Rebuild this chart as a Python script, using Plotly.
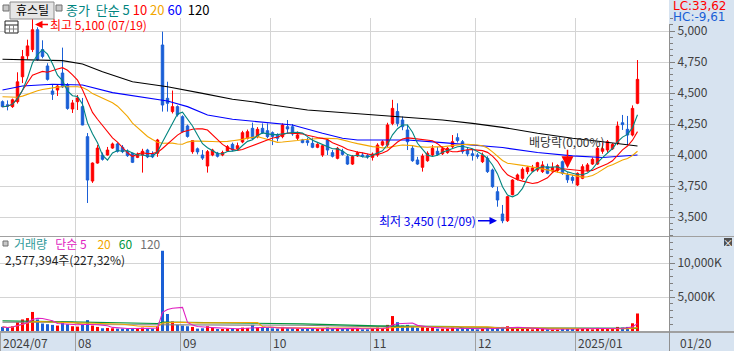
import plotly.graph_objects as go
import pandas as pd

W, H = 734, 351

# ---------------- data ----------------
month_labels = ["2024/07", "08", "09", "10", "11", "12", "2025/01"]
month_start_idx = [0, 15, 36, 54, 74, 95, 115]
last_date_label = "01/20"
high_date_label = "07/19"
low_date_label = "12/09"
exdiv_idx = 113

opens = [4430, 4405, 4390, 4430, 4631, 4800, 4850, 5010, 4850, 4718,
         4516, 4524, 4661, 4565, 4371, 4430, 4390, 4148, 3790, 3935,
         4000, 4000, 4056, 4089, 4062, 4027, 4014, 3981, 4000, 4040,
         4010, 4014, 4887, 4457, 4350, 4390, 4309, 4234, 4027, 4050,
         4000, 3911, 4000, 4015, 4000, 4032, 4086, 4050, 4105, 4135,
         4215, 4148, 4215, 4196, 4180, 4160, 4148, 4228, 4228, 4135,
         4121, 4115, 4094, 4062, 4000, 4121, 4019, 3973, 4030, 3987,
         3927, 3992, 4000, 3995, 3981, 4000, 4080, 4080, 4255, 4350,
         4282, 4202, 4054, 3960, 3901, 3954, 4000, 4030, 4010, 4019,
         4067, 4140, 4107, 4040, 4010, 4000, 3946, 3973, 3879, 3704,
         3524, 3470, 3680, 3804, 3812, 3866, 3870, 3879, 3866, 3906,
         3870, 3875, 3946, 3839, 3820, 3758, 3812, 3874, 3927, 3927,
         4030, 4040, 4050, 4094, 4260, 4207, 4161, 4417]
highs = [4440, 4440, 4455, 4667, 4847, 4930, 5100, 5030, 4925, 4740,
         4565, 4565, 4866, 4580, 4444, 4484, 4460, 4177, 3940, 4080,
         4020, 4065, 4100, 4100, 4080, 4045, 4020, 4020, 4050, 4050,
         4030, 4130, 4995, 4591, 4520, 4400, 4320, 4245, 4120, 4060,
         4040, 4040, 4050, 4025, 4035, 4080, 4100, 4100, 4195, 4205,
         4261, 4225, 4255, 4255, 4190, 4175, 4255, 4282, 4250, 4190,
         4130, 4140, 4140, 4095, 4085, 4135, 4040, 4065, 4050, 4000,
         4000, 4030, 4020, 4010, 4020, 4095, 4120, 4260, 4445, 4417,
         4310, 4245, 4080, 3985, 4010, 4030, 4080, 4065, 4070, 4065,
         4161, 4175, 4121, 4060, 4040, 4015, 4020, 3990, 3890, 3744,
         3597, 3670, 3805, 3850, 3900, 3910, 3920, 3945, 3950, 3930,
         3940, 3925, 3955, 3860, 3840, 3860, 3925, 3935, 3980, 4070,
         4100, 4121, 4095, 4270, 4323, 4315, 4400, 4766]
lows = [4385, 4360, 4380, 4415, 4580, 4770, 4830, 4760, 4780, 4600,
        4444, 4476, 4540, 4365, 4339, 4363, 4240, 3613, 3775, 3930,
        3955, 3995, 4050, 4020, 4015, 3985, 3935, 3975, 3858, 3975,
        3975, 3985, 4350, 4350, 4335, 4310, 4180, 4140, 4010, 4005,
        3960, 3858, 3990, 3980, 3990, 4025, 4030, 4040, 4095, 4125,
        4121, 4135, 4170, 4135, 4080, 4110, 4135, 4175, 4155, 4120,
        4095, 4075, 4055, 4055, 3985, 4000, 3980, 3965, 3995, 3920,
        3920, 3985, 3980, 3970, 3955, 3985, 4070, 4065, 4240, 4230,
        4200, 4040, 3945, 3920, 3866, 3945, 3990, 3995, 4000, 4010,
        4055, 4100, 4010, 3990, 3955, 3970, 3935, 3855, 3735, 3583,
        3450, 3460, 3675, 3795, 3800, 3845, 3865, 3865, 3855, 3845,
        3860, 3860, 3840, 3775, 3770, 3750, 3805, 3865, 3920, 3920,
        4010, 4020, 4040, 4080, 4202, 4080, 4150, 4410]
closes = [4390, 4395, 4445, 4590, 4793, 4880, 5010, 4770, 4795, 4610,
          4490, 4556, 4550, 4376, 4420, 4460, 4242, 3798, 3935, 4056,
          3965, 4040, 4089, 4030, 4027, 3995, 3941, 4008, 4030, 3985,
          3985, 4121, 4403, 4417, 4390, 4325, 4188, 4150, 4116, 4025,
          3975, 4027, 4040, 3990, 4020, 4067, 4040, 4075, 4180, 4188,
          4135, 4207, 4180, 4148, 4150, 4135, 4242, 4210, 4170, 4161,
          4100, 4100, 4062, 4086, 4075, 4040, 3990, 4054, 4005, 3927,
          3987, 4019, 3990, 3985, 4008, 4080, 4107, 4242, 4376, 4255,
          4228, 4107, 3954, 3927, 3992, 4014, 4054, 4005, 4050, 4054,
          4107, 4116, 4027, 4008, 3995, 3990, 4000, 3866, 3745, 3637,
          3470, 3664, 3798, 3839, 3885, 3898, 3895, 3938, 3920, 3852,
          3900, 3915, 3852, 3800, 3795, 3852, 3906, 3920, 3965, 4054,
          4050, 4107, 4085, 4234, 4245, 4161, 4376, 4610]
volume_k = [600, 450, 700, 1300, 1700, 1900, 2800, 1700, 1100, 1000,
            900, 800, 1400, 1000, 700, 650, 1000, 1600, 800, 600,
            400, 450, 400, 350, 350, 300, 450, 300, 500, 400,
            350, 700, 11800, 2500, 1400, 900, 800, 700, 600, 350,
            400, 700, 450, 300, 300, 350, 400, 300, 500, 450,
            900, 500, 450, 500, 400, 350, 600, 450, 400, 350,
            300, 350, 400, 300, 400, 550, 350, 450, 300, 400,
            450, 300, 250, 250, 350, 500, 450, 900, 2200, 1300,
            800, 900, 700, 450, 600, 450, 500, 350, 350, 350,
            500, 400, 500, 350, 300, 250, 300, 450, 550, 500,
            600, 700, 500, 350, 400, 300, 250, 300, 300, 250,
            200, 200, 300, 350, 300, 350, 400, 300, 250, 450,
            300, 350, 300, 600, 500, 600, 1134, 2577]

ma20_head = [4470, 4468, 4466, 4466, 4475, 4490, 4505, 4518, 4528, 4536,
             4543, 4547, 4550, 4551, 4551, 4550, 4545, 4525, 4495]
ma60_idx = [0, 4, 10, 16, 22, 28, 33, 37, 41, 46, 54, 58, 64, 68, 71, 81, 88, 94, 100, 107, 114, 120, 127]
ma60_val = [4524, 4556, 4570, 4565, 4503, 4465, 4436, 4390, 4323, 4288, 4255, 4242, 4175, 4135,
            4121, 4121, 4100, 4082, 4060, 4020, 3993, 3980, 4000]
ma120_idx = [0, 12, 16, 20, 26, 33, 40, 46, 50, 54, 61, 68, 74, 81, 88, 94, 100, 107, 114, 120, 127]
ma120_val = [4772, 4761, 4734, 4672, 4591, 4551, 4497, 4449, 4430, 4403, 4363, 4341, 4323, 4304,
             4282, 4255, 4223, 4175, 4135, 4107, 4073]
vma60_idx = [0, 8, 16, 31, 32, 45, 60, 75, 91, 92, 105, 115, 127]
vma60_val = [1500, 1450, 1300, 1100, 1300, 1200, 1050, 750, 650, 450, 400, 350, 400]
vma120_idx = [0, 14, 16, 32, 33, 60, 74, 94, 106, 127]
vma120_val = [1300, 1300, 950, 900, 1000, 850, 650, 600, 400, 400]

# ---------------- derived ----------------
n = len(closes)
idx = list(range(n))
c = pd.Series(closes, dtype=float)
ma5 = c.rolling(5, min_periods=1).mean()
ma10 = c.rolling(10, min_periods=1).mean()
ma20 = c.rolling(20).mean()
ma20.iloc[:len(ma20_head)] = ma20_head
v = pd.Series(volume_k, dtype=float)
vma5 = v.rolling(5, min_periods=1).mean()
vma20 = v.rolling(20, min_periods=1).mean()

hi_idx = max(range(n), key=lambda i: highs[i])
lo_idx = min(range(n), key=lambda i: lows[i])


def px(x):
    return x / W


def py(y):
    return 1 - y / H


UP, DN = "#ff0000", "#1a5fd6"
FONT = "Noto Sans CJK KR, Noto Sans, sans-serif"
GRID = "#d4d4d4"
PANEL = "#d7e3f0"

fig = go.Figure()
fig.add_trace(go.Candlestick(
    x=idx, open=opens, high=highs, low=lows, close=closes,
    increasing=dict(line=dict(color=UP, width=1), fillcolor=UP),
    decreasing=dict(line=dict(color=DN, width=1), fillcolor=DN),
    whiskerwidth=0, xaxis="x", yaxis="y", hoverinfo="skip"))

for xs, ys, col in [(ma60_idx, ma60_val, "#0000ff"), (ma120_idx, ma120_val, "#000000"),
                    (idx, ma20, "#f2a600"), (idx, ma10, "#ff0000"), (idx, ma5, "#00857f")]:
    fig.add_trace(go.Scatter(x=xs, y=ys, mode="lines", line=dict(color=col, width=1.1),
                             xaxis="x", yaxis="y", hoverinfo="skip"))

vcolors = [UP if closes[i] >= opens[i] else DN for i in idx]
fig.add_trace(go.Bar(x=idx, y=volume_k, marker=dict(color=vcolors, line=dict(width=0)),
                     width=0.6, xaxis="x2", yaxis="y2", hoverinfo="skip"))
for xs, ys, col in [(vma120_idx, vma120_val, "#808080"), (vma60_idx, vma60_val, "#00963c"),
                    (idx, vma20, "#f2a600"), (idx, vma5, "#e020c0")]:
    fig.add_trace(go.Scatter(x=xs, y=ys, mode="lines", line=dict(color=col, width=1.1),
                             xaxis="x2", yaxis="y2", hoverinfo="skip"))

# axes geometry (pixels)
ppx = 250 / 31.0
y_top = 5000 + (31 - 18) * ppx
y_bot = 5000 - (236 - 31) * ppx
vpp = 5000 / 34.0
v_top = (331 - 237) * vpp
v_bot = (331 - 332) * vpp
xr = [-0.5, -0.5 + 669 / 5.0]
grid_x = [m - 0.5 for m in month_start_idx]

tickfont = dict(family=FONT, size=12, color="#404040")
common_y = dict(side="right", ticks="outside", ticklen=5, tickcolor="#808080", showgrid=True,
                gridcolor=GRID, zeroline=False, showline=False, tickfont=tickfont, fixedrange=True)

fig.update_layout(
    width=W, height=H, autosize=False, margin=dict(l=0, r=0, t=0, b=0, pad=0),
    paper_bgcolor="white", plot_bgcolor="white", showlegend=False, hovermode=False,
    font=dict(family=FONT, size=12, color="#333333"),
    xaxis=dict(domain=[0, px(669)], range=xr, anchor="y", tickmode="array", tickvals=grid_x,
               showticklabels=False, ticks="", showgrid=True, gridcolor=GRID, zeroline=False,
               rangeslider=dict(visible=False), fixedrange=True),
    xaxis2=dict(domain=[0, px(669)], range=xr, anchor="y2", matches="x", tickmode="array",
                tickvals=grid_x, showticklabels=False, ticks="outside", ticklen=19,
                tickcolor="#a0a0a0", showgrid=True, gridcolor=GRID, zeroline=False, fixedrange=True),
    yaxis=dict(domain=[py(236), py(18)], range=[y_bot, y_top], anchor="x", tickmode="array",
               tickvals=list(range(3500, 5001, 250)), tickformat=",",
               minor=dict(tickmode="linear", tick0=0, dtick=50, ticks="outside", ticklen=3,
                          tickcolor="#808080", showgrid=False), **common_y),
    yaxis2=dict(domain=[py(332), py(237)], range=[v_bot, v_top], anchor="x2", tickmode="array",
                tickvals=[5000, 10000], ticktext=["5,000K", "10,000K"],
                minor=dict(tickmode="linear", tick0=0, dtick=1000, ticks="outside", ticklen=3,
                           tickcolor="#808080", showgrid=False), **common_y),
)

shapes = [
    dict(type="rect", xref="paper", yref="paper", x0=px(669), x1=1, y0=0, y1=1,
         fillcolor=PANEL, line=dict(width=0), layer="below"),
    dict(type="rect", xref="paper", yref="paper", x0=0, x1=1, y0=0, y1=py(333),
         fillcolor=PANEL, line=dict(width=0), layer="below"),
    dict(type="line", xref="paper", yref="paper", x0=0, x1=1, y0=py(236.5), y1=py(236.5),
         line=dict(color="#a0a0a0", width=1)),
    dict(type="line", xref="paper", yref="paper", x0=0, x1=1, y0=py(332), y1=py(332),
         line=dict(color="#a0a0a0", width=2)),
    dict(type="line", xref="paper", yref="paper", x0=px(669.5), x1=px(669.5), y0=0, y1=py(24),
         line=dict(color="#909090", width=1)),
    # legend squares
    dict(type="rect", xref="paper", yref="paper", x0=px(3), x1=px(9), y0=py(11), y1=py(5),
         fillcolor="#c8c8c8", line=dict(color="#707070", width=1)),
    dict(type="rect", xref="paper", yref="paper", x0=px(10), x1=px(54), y0=py(19), y1=py(2),
         fillcolor="#e6e6e6", line=dict(color="#8c8c8c", width=1)),
    dict(type="rect", xref="paper", yref="paper", x0=px(56), x1=px(62), y0=py(11), y1=py(5),
         fillcolor="#c8c8c8", line=dict(color="#707070", width=1)),
    dict(type="rect", xref="paper", yref="paper", x0=px(3), x1=px(8), y0=py(246), y1=py(241),
         fillcolor="#c8c8c8", line=dict(color="#707070", width=1)),
    # grid icon
    dict(type="rect", xref="paper", yref="paper", x0=px(5), x1=px(18), y0=py(33), y1=py(21),
         fillcolor="white", line=dict(color="#202020", width=1)),
    dict(type="line", xref="paper", yref="paper", x0=px(5), x1=px(18), y0=py(25), y1=py(25),
         line=dict(color="#202020", width=1)),
    dict(type="line", xref="paper", yref="paper", x0=px(5), x1=px(18), y0=py(29), y1=py(29),
         line=dict(color="#808080", width=1)),
    dict(type="line", xref="paper", yref="paper", x0=px(9.5), x1=px(9.5), y0=py(33), y1=py(25),
         line=dict(color="#808080", width=1)),
    dict(type="line", xref="paper", yref="paper", x0=px(13.5), x1=px(13.5), y0=py(33), y1=py(25),
         line=dict(color="#808080", width=1)),
    # close box
    dict(type="rect", xref="paper", yref="paper", x0=px(724), x1=px(732), y0=py(246), y1=py(238),
         fillcolor="#505050", line=dict(width=0)),
]
fig.update_layout(shapes=shapes)


def txt(x, y, s, color="#333333", size=12, anchor="left", family=FONT):
    return dict(xref="paper", yref="paper", x=px(x), y=py(y), text=s, showarrow=False,
                xanchor=anchor, yanchor="middle", font=dict(family=family, size=size, color=color))


ann = [
    txt(32, 10, "휴스틸", "#000000", 12, "center"),
    txt(64, 9, "<span style='color:#00857f'>종가&nbsp; 단순 5</span> <span style='color:#ff0000'>10</span> "
               "<span style='color:#f2a600'>20</span> <span style='color:#0000ff'>60</span>&nbsp; "
               "<span style='color:#000000'>120</span>", size=13),
    txt(12, 243, "<span style='color:#2f9a9a'>거래량</span>&nbsp;&nbsp; <span style='color:#e020c0'>단순 5</span>"
                 "&nbsp;&nbsp;&nbsp; <span style='color:#f2a600'>20</span>&nbsp;&nbsp; "
                 "<span style='color:#00963c'>60</span>&nbsp;&nbsp; "
                 "<span style='color:#707070'>120</span>", size=12),
    txt(3, 259, "2,577,394주(227,32%)", "#222222", 12),
    txt(671, 6, "LC:33,62", "#ff0000", 12, family="DejaVu Sans"),
    txt(671, 17, "HC:-9,61", "#1a5fd6", 12, family="DejaVu Sans"),
    txt(728, 242, "×", "#ffffff", 10, "center"),
    txt(678, 342, last_date_label, "#404040", 12),
    dict(xref="paper", yref="paper", x=px(567), y=py(141), text="배당락(0,00%)", showarrow=False,
         xanchor="center", yanchor="middle", font=dict(family=FONT, size=12, color="#333333")),
]
for lab, m in zip(month_labels, month_start_idx):
    ann.append(dict(xref="x2", yref="paper", x=m - 0.5, y=py(342), text=lab, showarrow=False,
                    xanchor="left", yanchor="middle", xshift=1,
                    font=dict(family=FONT, size=12, color="#404040")))
ann.append(dict(xref="x", yref="y", x=hi_idx, y=highs[hi_idx], xshift=2.5, yshift=-6,
                text=f"최고 {highs[hi_idx]:,} ({high_date_label})", showarrow=True, ax=13, ay=0,
                xanchor="left", yanchor="middle", arrowhead=2, arrowsize=1, arrowwidth=1.5,
                arrowcolor="#ff0000", font=dict(family=FONT, size=12, color="#ff0000")))
ann.append(dict(xref="x", yref="y", x=lo_idx, y=lows[lo_idx], xshift=-5.5, yshift=2.5,
                text=f"최저 {lows[lo_idx]:,} ({low_date_label})", showarrow=True, ax=-19, ay=0,
                xanchor="right", yanchor="middle", arrowhead=2, arrowsize=1, arrowwidth=1.5,
                arrowcolor="#0000ee", font=dict(family=FONT, size=12, color="#0000ee")))
ann.append(dict(xref="x", yref="y", x=exdiv_idx, y=highs[exdiv_idx], yshift=4, text="",
                showarrow=True, ax=0, ay=-20, arrowhead=2, arrowsize=1.6, arrowwidth=1.5,
                arrowcolor="#ff0000"))
fig.update_layout(annotations=ann)

fig.write_html("out.html", config={"displayModeBar": False, "staticPlot": True})
